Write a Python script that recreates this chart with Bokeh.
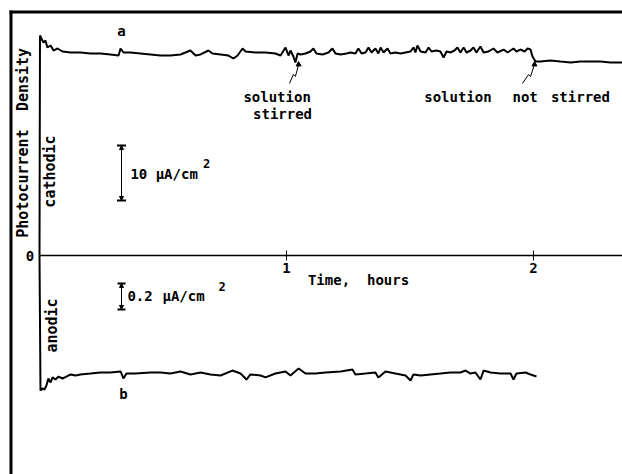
from bokeh.plotting import figure
from bokeh.models import Range1d, LinearAxis, FixedTicker, BoxAnnotation, Arrow, NormalHead
from bokeh.core.properties import value
from bokeh.embed import file_html
from bokeh.resources import INLINE

# ---- data (time in hours, photocurrent density) ----
# trace a: cathodic, muA/cm^2
a_time = [0, 0.002, 0.008, 0.016, 0.024, 0.032, 0.045, 0.057, 0.073, 0.093,
          0.126, 0.166, 0.206, 0.247, 0.287, 0.320, 0.328, 0.340, 0.368, 0.409,
          0.449, 0.490, 0.530, 0.571, 0.611, 0.632, 0.652, 0.684, 0.700, 0.733,
          0.765, 0.785, 0.802, 0.822, 0.834, 0.874, 0.915, 0.955, 0.976, 0.996,
          1.008, 1.016, 1.028, 1.036, 1.045,
          1.057, 1.077, 1.097, 1.109, 1.121, 1.146, 1.170, 1.186, 1.198, 1.219,
          1.243, 1.259, 1.279, 1.291, 1.304, 1.320, 1.332, 1.344, 1.360, 1.372,
          1.381, 1.393, 1.409, 1.421, 1.441, 1.462, 1.482, 1.502, 1.514, 1.522,
          1.530, 1.543, 1.563, 1.575, 1.587, 1.607, 1.623, 1.636, 1.648, 1.664,
          1.680, 1.692, 1.704, 1.717, 1.729, 1.745, 1.757, 1.769, 1.785, 1.798,
          1.818, 1.838, 1.854, 1.879, 1.895, 1.919, 1.931, 1.947, 1.964, 1.976,
          1.988, 1.996, 2.008,
          2.028, 2.069, 2.109, 2.150, 2.190, 2.231, 2.271, 2.312, 2.360]
a_current = [0, 40.0, 39.45, 38.73, 39.09, 37.82, 38.18, 37.27, 37.64, 37.09,
             36.91, 36.91, 36.73, 36.73, 36.55, 36.36, 37.64, 36.91, 36.91, 36.73,
             36.55, 36.36, 36.36, 36.55, 37.27, 36.36, 36.55, 37.27, 36.73, 36.55,
             36.36, 35.82, 36.36, 37.64, 37.09, 36.91, 36.91, 36.73, 36.36, 37.82,
             36.36, 37.27, 36.18, 35.09, 36.73,
             36.55, 36.73, 37.09, 37.64, 36.73, 36.55, 36.91, 37.64, 36.73, 36.55,
             36.73, 36.91, 36.73, 37.64, 36.73, 36.91, 37.82, 36.91, 37.64, 36.73,
             37.82, 36.91, 37.64, 36.73, 36.91, 36.73, 36.91, 37.09, 37.82, 36.91,
             38.18, 37.09, 36.91, 37.82, 37.09, 37.27, 37.09, 36.00, 37.09, 36.91,
             37.27, 37.82, 36.91, 37.82, 36.91, 37.27, 37.82, 36.91, 38.00, 36.91,
             37.09, 37.64, 36.91, 37.45, 36.91, 37.64, 37.09, 37.45, 37.09, 37.64,
             37.45, 36.18, 35.27,
             35.27, 35.45, 35.27, 35.09, 35.27, 35.27, 35.27, 35.09, 35.09]

# trace b: anodic, muA/cm^2 (plotted downward)
b_time = [0, 0.004, 0.012, 0.020, 0.028, 0.036, 0.045, 0.053, 0.065, 0.077, 0.093, 0.109,
          0.126, 0.146, 0.166, 0.206, 0.247, 0.287, 0.328, 0.340, 0.352, 0.389, 0.449, 0.490,
          0.530, 0.571, 0.611, 0.652, 0.692, 0.733, 0.781, 0.814, 0.838, 0.854, 0.895, 0.915,
          0.955, 0.996, 1.016, 1.049, 1.077, 1.117, 1.158, 1.219, 1.267, 1.279, 1.320, 1.360,
          1.372, 1.401, 1.441, 1.482, 1.502, 1.514, 1.543, 1.583, 1.623, 1.664, 1.704, 1.725,
          1.745, 1.765, 1.785, 1.798, 1.826, 1.866, 1.907, 1.919, 1.931, 1.968, 1.988, 2.012]
b_current = [0, -1.038, -1.023, -1.031, -1.000, -0.946, -0.977, -0.938, -0.954, -0.931, -0.946, -0.931,
             -0.915, -0.923, -0.915, -0.908, -0.900, -0.900, -0.892, -0.946, -0.908, -0.908, -0.900, -0.900,
             -0.908, -0.892, -0.915, -0.900, -0.915, -0.923, -0.885, -0.908, -0.954, -0.915, -0.923, -0.938,
             -0.908, -0.892, -0.923, -0.869, -0.908, -0.908, -0.900, -0.892, -0.877, -0.915, -0.908, -0.900,
             -0.938, -0.892, -0.908, -0.923, -0.962, -0.915, -0.923, -0.915, -0.908, -0.900, -0.900, -0.885,
             -0.908, -0.900, -0.954, -0.885, -0.900, -0.908, -0.908, -0.954, -0.908, -0.900, -0.915, -0.931]

x_ticks = [1, 2]
x_tick_labels = {1: "1", 2: "2"}

# scale bars (time position, low, high)
bar_a = (0.332, 10.0, 20.0)     # 10 muA/cm^2
bar_b = (0.332, -0.415, -0.215) # 0.2 muA/cm^2

# event pointers (zigzag leader lines)
ptr1_t = [1.012, 1.028, 1.036, 1.049]
ptr1_c = [31.27, 32.91, 32.55, 34.73]
ptr2_t = [1.955, 1.980, 1.988, 2.004]
ptr2_c = [31.27, 32.91, 32.55, 34.73]

# ---- figure ----
FONT = value("DejaVu Sans Mono")
p = figure(width=622, height=474,
           x_range=Range1d(-0.1579, 2.3603), y_range=Range1d(-39.818, 46.364),
           output_backend="svg", toolbar_location=None,
           x_axis_location=None, y_axis_location=None,
           min_border=0, min_border_left=0, min_border_right=0, min_border_top=0, min_border_bottom=0,
           outline_line_color=None, background_fill_color="white", border_fill_color="white")
p.extra_y_ranges = {"anodic": Range1d(-1.6846, 1.9615)}
p.grid.visible = False

# border of the scanned figure (only top and left edges are inside the picture)
p.add_layout(BoxAnnotation(left=-0.1215, right=-0.1093, top=44.545, bottom=-200.0,
                           fill_color="black", fill_alpha=1, line_color=None))
p.add_layout(BoxAnnotation(left=-0.1215, right=5.0, top=44.545, bottom=44.0,
                           fill_color="black", fill_alpha=1, line_color=None))

# time axis drawn at zero
xaxis = LinearAxis(fixed_location=0, ticker=FixedTicker(ticks=x_ticks), bounds=(0, 2.3603))
xaxis.major_label_overrides = x_tick_labels
xaxis.axis_line_color = "black"
xaxis.axis_line_width = 1.5
xaxis.major_tick_in = 5
xaxis.major_tick_out = 5
xaxis.major_tick_line_width = 1
xaxis.minor_tick_line_color = None
xaxis.major_label_standoff = 2
xaxis.major_label_text_font = "DejaVu Sans Mono"
xaxis.major_label_text_font_style = "bold"
xaxis.major_label_text_font_size = "14px"
xaxis.major_label_text_color = "black"
p.add_layout(xaxis, "below")

# traces
p.line(a_time, a_current, line_color="black", line_width=2)
p.line(b_time, b_current, line_color="black", line_width=2, y_range_name="anodic")

# scale bars
p.add_layout(Arrow(x_start=bar_a[0], y_start=bar_a[1], x_end=bar_a[0], y_end=bar_a[2],
                   line_width=1, start=NormalHead(size=4, fill_color="black", line_color="black"),
                   end=NormalHead(size=4, fill_color="black", line_color="black")))
p.scatter([bar_a[0], bar_a[0]], [bar_a[1], bar_a[2]], marker="dash", size=9, line_width=2, line_color="black")
p.add_layout(Arrow(x_start=bar_b[0], y_start=bar_b[1], x_end=bar_b[0], y_end=bar_b[2],
                   line_width=1, y_range_name="anodic",
                   start=NormalHead(size=4, fill_color="black", line_color="black"),
                   end=NormalHead(size=4, fill_color="black", line_color="black")))
p.scatter([bar_b[0], bar_b[0]], [bar_b[1], bar_b[2]], marker="dash", size=8, line_width=2,
          line_color="black", y_range_name="anodic")

# pointers
p.line(ptr1_t, ptr1_c, line_color="black", line_width=1)
p.line(ptr2_t, ptr2_c, line_color="black", line_width=1)
p.scatter([ptr1_t[-1], ptr2_t[-1]], [ptr1_c[-1], ptr2_c[-1]], marker="triangle", size=5,
          fill_color="black", line_color="black")

# texts (main range)
txt = dict(text_font=FONT, text_font_style="bold", text_color="black", text_font_size="14px")
sup = dict(text_font=FONT, text_font_style="bold", text_color="black", text_font_size="12px",
           text_align="left", text_baseline="middle")
p.text(x=[0.332], y=[40.9], text=["a"], text_align="center", text_baseline="middle", **txt)
p.text(x=[0.962, 0.984], y=[28.9, 25.8], text=["solution", "stirred"],
       text_align="center", text_baseline="middle", **txt)
p.text(x=[1.694, 1.966, 2.190], y=[28.9, 28.9, 28.9], text=["solution", "not", "stirred"],
       text_align="center", text_baseline="middle", **txt)
p.text(x=[1.172, 1.411], y=[-4.545, -4.545], text=["Time,", "hours"],
       text_align="center", text_baseline="middle", **txt)
p.text(x=[0.368], y=[14.9], text=["10 μA/cm"], text_align="left", text_baseline="middle", **txt)
p.text(x=[0.662], y=[16.7], text=["2"], **sup)
p.text(x=[-0.022], y=[0], text=["0"], text_align="right", text_baseline="middle", **txt)

vtxt = dict(text_font=FONT, text_font_style="bold", text_color="black", text_font_size="15px",
            angle=1.5708, text_align="center", text_baseline="middle")
p.text(x=[-0.0648, -0.0648], y=[13.09, 32.0], text=["Photocurrent", "Density"], **vtxt)
p.text(x=[0.0405], y=[15.27], text=["cathodic"], **vtxt)

# texts (anodic range)
p.text(x=[0.340], y=[-1.062], text=["b"], text_align="center", text_baseline="middle",
       y_range_name="anodic", **txt)
p.text(x=[0.356, 0.498], y=[-0.315, -0.315], text=["0.2", "μA/cm"], text_align="left",
       text_baseline="middle", y_range_name="anodic", **txt)
p.text(x=[0.725], y=[-0.238], text=["2"], y_range_name="anodic", **sup)
p.text(x=[0.0486], y=[-0.538], text=["anodic"], y_range_name="anodic", **vtxt)

open("out.html", "w").write(file_html(p, INLINE))
